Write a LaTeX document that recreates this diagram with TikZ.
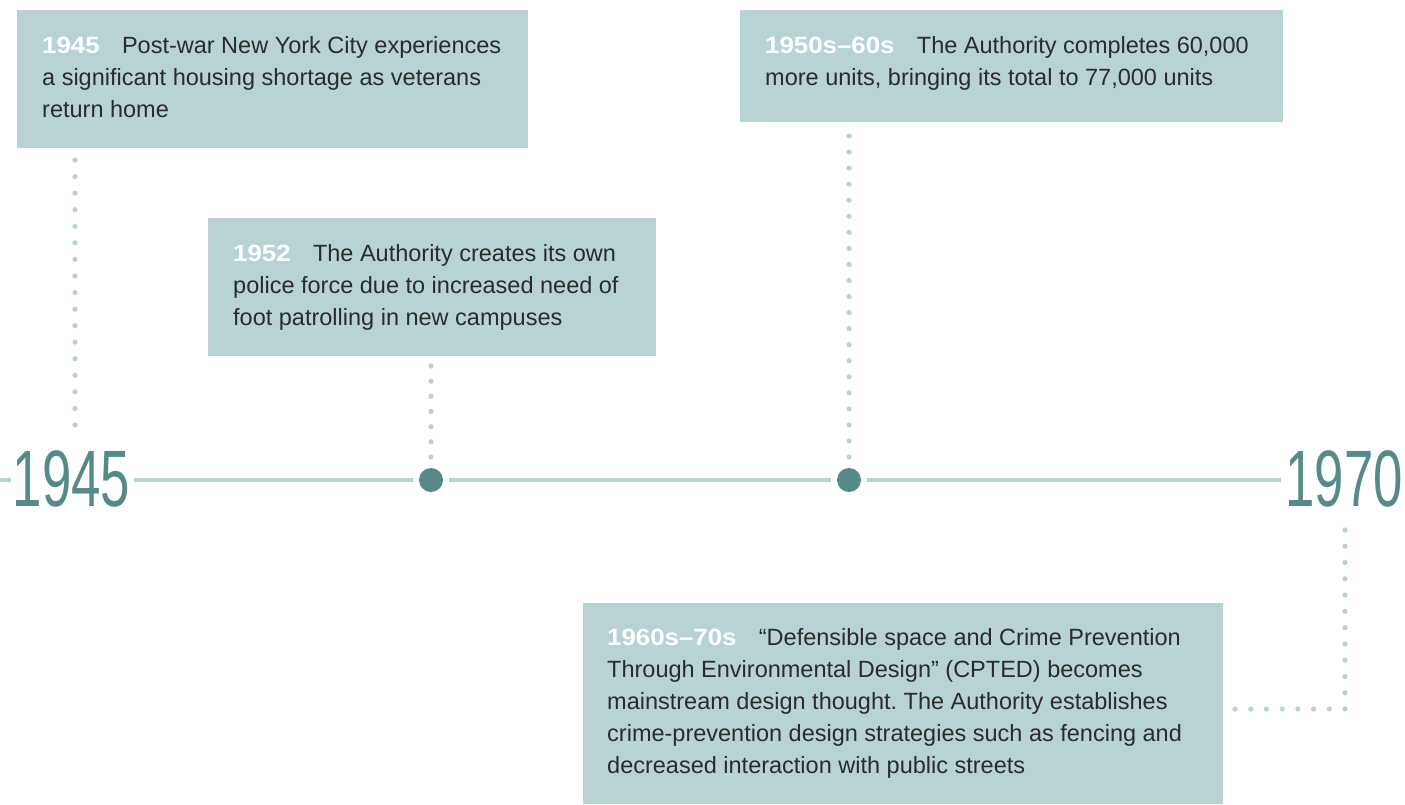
\documentclass[tikz,border=0pt]{standalone}
\usepackage{fontspec}
\setmainfont{Liberation Sans}
\usetikzlibrary{calc}
\definecolor{boxc}{HTML}{B9D3D4}
\definecolor{tealc}{HTML}{558A88}
\definecolor{txtc}{HTML}{2B2B2B}
\frenchspacing
\newcommand{\yrlabel}[1]{\scalebox{1.1}[1]{\textcolor{white}{\bfseries #1}}\hspace{0.95em}}
\begin{document}
\begin{tikzpicture}[x=1pt,y=-1pt,
  evbox/.style={fill=boxc, draw=none},
  evtext/.style={anchor=base west, inner sep=0pt, text=txtc, font=\fontsize{23.5}{32}\selectfont},
  bigyear/.style={anchor=base, inner sep=0pt, text=tealc, font=\fontsize{80}{80}\selectfont},
  tl/.style={draw=boxc, line width=4pt},
  evdot/.style={circle, fill=tealc, minimum size=24pt, inner sep=0pt},
  dotc/.style={fill=boxc}
]
\useasboundingbox (0,0) rectangle (1405,804);

% boxes
\fill[evbox] (17,10) rectangle (528,148);
\fill[evbox] (208,218) rectangle (656,356);
\fill[evbox] (740,10) rectangle (1283,122);
\fill[evbox] (583,603) rectangle (1223,804);

% texts
\node[evtext] (t1) at (42,53) {\vtop{\baselineskip=32pt
  \hbox{\yrlabel{1945}Post-war New York City experiences}
  \hbox{a significant housing shortage as veterans}
  \hbox{return home}}};
\node[evtext] (t2) at (233,261) {\vtop{\baselineskip=32pt
  \hbox{\yrlabel{1952}The Authority creates its own}
  \hbox{police force due to increased need of}
  \hbox{foot patrolling in new campuses}}};
\node[evtext] (t3) at (765,53) {\vtop{\baselineskip=32pt
  \hbox{\yrlabel{1950s–60s}The Authority completes 60,000}
  \hbox{more units, bringing its total to 77,000 units}}};
\node[evtext] (t4) at (607,645) {\vtop{\baselineskip=32pt
  \hbox{\yrlabel{1960s–70s}“Defensible space and Crime Prevention}
  \hbox{Through Environmental Design” (CPTED) becomes}
  \hbox{mainstream design thought. The Authority establishes}
  \hbox{crime-prevention design strategies such as fencing and}
  \hbox{decreased interaction with public streets}}};

% timeline
\coordinate (L) at (0,480);
\node[bigyear] (y1) at (71.5,506) {\scalebox{0.66}[1]{1945}};
\node[bigyear] (y2) at (1344,506) {\scalebox{0.66}[1]{1970}};
\node[evdot] (d1) at (431,480) {};
\node[evdot] (d2) at (849,480) {};
\coordinate (y1w) at ($(y1.west|-L)+(-2,0)$);
\coordinate (y1e) at ($(y1.east|-L)+(4,0)$);
\coordinate (y2w) at ($(y2.west|-L)+(-4,0)$);
\draw[tl] (L) -- (y1w);
\draw[tl, shorten >=6pt] (y1e) -- (d1);
\draw[tl, shorten <=6pt, shorten >=6pt] (d1) -- (d2);
\draw[tl, shorten <=6pt] (d2) -- (y2w);

% dotted connectors
\coordinate (a1) at (75,160);  \coordinate (b1) at (75,425);
\coordinate (a2) at (431,366); \coordinate (b2) at (431,457);
\coordinate (a3) at (849,136); \coordinate (b3) at (849,457);
\coordinate (a4) at (1345,530); \coordinate (c4) at (1345,709); \coordinate (b4) at (1235,709);
\foreach \i in {0,...,16} \fill[dotc] ($(a1)!\i/16!(b1)$) circle (2.6);
\foreach \i in {0,...,6} \fill[dotc] ($(a2)!\i/6!(b2)$) circle (2.6);
\foreach \i in {0,...,20} \fill[dotc] ($(a3)!\i/20!(b3)$) circle (2.6);
\foreach \i in {0,...,11} \fill[dotc] ($(a4)!\i/11!(c4)$) circle (2.6);
\foreach \i in {1,...,7} \fill[dotc] ($(c4)!\i/7!(b4)$) circle (2.6);
\end{tikzpicture}
\end{document}
